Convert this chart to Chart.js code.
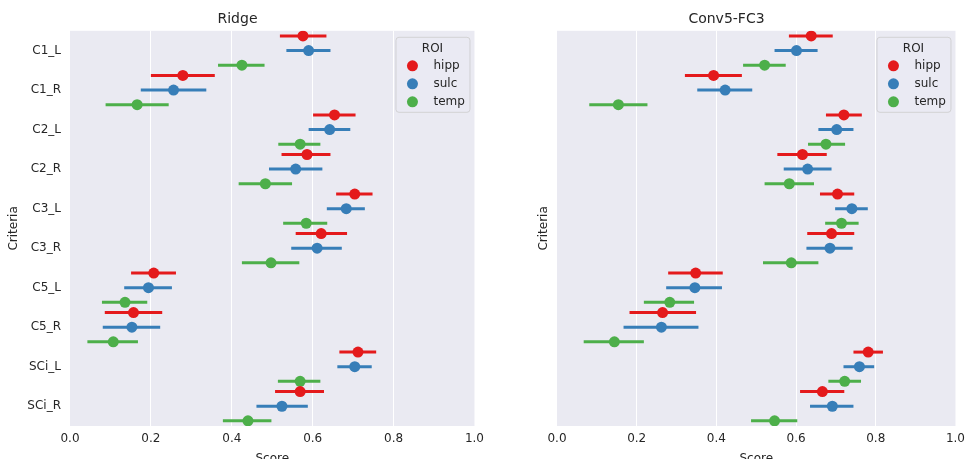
<!DOCTYPE html>
<html>
<head>
<meta charset="utf-8">
<script src="https://cdn.jsdelivr.net/npm/chart.js@4"></script>
<style>
  html, body { margin: 0; padding: 0; background: #fff; overflow: hidden; width: 971px; height: 459px; }
  .panel { position: absolute; top: 0; }
</style>
</head>
<body>
<div class="panel" style="left:0;width:490px;height:470px"><canvas id="ridgeChart"></canvas></div>
<div class="panel" style="left:490px;width:481px;height:470px"><canvas id="convChart"></canvas></div>
<script>
// Categories and hue levels
const criteria = ['C1_L', 'C1_R', 'C2_L', 'C2_R', 'C3_L', 'C3_R', 'C5_L', 'C5_R', 'SCi_L', 'SCi_R'];
const roiNames = ['hipp', 'sulc', 'temp'];
const roiColors = ['#e41a1c', '#377eb8', '#4daf4a'];
const xTicks = [0, 0.2, 0.4, 0.6, 0.8, 1.0];

// Ridge: mean score per criterion
const ridgeHipp = [0.576, 0.279, 0.654, 0.586, 0.704, 0.621, 0.207, 0.157, 0.712, 0.569];
const ridgeSulc = [0.590, 0.256, 0.642, 0.558, 0.683, 0.611, 0.194, 0.153, 0.704, 0.524];
const ridgeTemp = [0.425, 0.166, 0.569, 0.483, 0.584, 0.497, 0.136, 0.107, 0.569, 0.440];
// Ridge: confidence intervals [low, high]
const ridgeHippCI = [[0.519, 0.634], [0.200, 0.358], [0.601, 0.706], [0.523, 0.644], [0.658, 0.748], [0.558, 0.685], [0.151, 0.262], [0.086, 0.228], [0.666, 0.757], [0.507, 0.628]];
const ridgeSulcCI = [[0.535, 0.644], [0.175, 0.337], [0.590, 0.693], [0.492, 0.624], [0.635, 0.729], [0.547, 0.672], [0.134, 0.252], [0.081, 0.223], [0.661, 0.746], [0.461, 0.588]];
const ridgeTempCI = [[0.366, 0.481], [0.088, 0.244], [0.515, 0.619], [0.417, 0.549], [0.527, 0.636], [0.425, 0.567], [0.079, 0.191], [0.043, 0.168], [0.514, 0.619], [0.378, 0.498]];

// Conv5-FC3: mean score per criterion
const convHipp = [0.638, 0.393, 0.720, 0.616, 0.704, 0.689, 0.348, 0.265, 0.781, 0.666];
const convSulc = [0.601, 0.422, 0.702, 0.629, 0.740, 0.685, 0.346, 0.262, 0.759, 0.691];
const convTemp = [0.521, 0.154, 0.675, 0.583, 0.714, 0.588, 0.283, 0.144, 0.722, 0.546];
// Conv5-FC3: confidence intervals [low, high]
const convHippCI = [[0.582, 0.692], [0.321, 0.464], [0.675, 0.765], [0.553, 0.677], [0.660, 0.746], [0.628, 0.746], [0.279, 0.416], [0.182, 0.349], [0.744, 0.818], [0.610, 0.721]];
const convSulcCI = [[0.546, 0.654], [0.352, 0.490], [0.656, 0.744], [0.569, 0.689], [0.698, 0.780], [0.626, 0.742], [0.274, 0.414], [0.167, 0.355], [0.719, 0.796], [0.635, 0.744]];
const convTempCI = [[0.467, 0.574], [0.081, 0.227], [0.630, 0.723], [0.521, 0.645], [0.673, 0.757], [0.517, 0.656], [0.218, 0.344], [0.067, 0.218], [0.681, 0.763], [0.487, 0.603]];

const dodge = [-0.37, 0, 0.37];
const textColor = '#262626';
const fontFamily = 'DejaVu Sans';

// Plot area background
const backgroundPlugin = {
    id: 'plotBackground',
    beforeDraw(chart) {
        const a = chart.chartArea;
        const ctx = chart.ctx;
        ctx.save();
        ctx.fillStyle = '#eaeaf2';
        ctx.fillRect(a.left, a.top, a.right - a.left, a.bottom - a.top);
        ctx.restore();
    }
};

// Horizontal error bars, drawn under the points
const errorBarPlugin = {
    id: 'errorBars',
    beforeDatasetsDraw(chart) {
        const ctx = chart.ctx;
        const xs = chart.scales.x;
        const ys = chart.scales.y;
        ctx.save();
        ctx.lineWidth = 3;
        ctx.lineCap = 'butt';
        chart.data.datasets.forEach(ds => {
            ctx.strokeStyle = ds.borderColor;
            ds.ci.forEach((ci, i) => {
                const y = ys.getPixelForValue(i + ds.offset);
                ctx.beginPath();
                ctx.moveTo(xs.getPixelForValue(ci[0]), y);
                ctx.lineTo(xs.getPixelForValue(ci[1]), y);
                ctx.stroke();
            });
        });
        ctx.restore();
    }
};

// Legend box inside the plot area, upper right
const legendPlugin = {
    id: 'roiLegend',
    afterDatasetsDraw(chart) {
        const ctx = chart.ctx;
        const a = chart.chartArea;
        const w = 74, h = 75;
        const x0 = a.right - 5 - w;
        const y0 = a.top + 6;
        ctx.save();
        ctx.globalAlpha = 0.8;
        ctx.fillStyle = '#eaeaf2';
        ctx.strokeStyle = '#cccccc';
        ctx.lineWidth = 1;
        ctx.beginPath();
        ctx.roundRect(x0 + 0.5, y0 + 0.5, w, h, 3);
        ctx.fill();
        ctx.stroke();
        ctx.globalAlpha = 1;
        ctx.font = '12px ' + fontFamily;
        ctx.fillStyle = textColor;
        ctx.textBaseline = 'middle';
        ctx.textAlign = 'center';
        ctx.fillText('ROI', x0 + w / 2, y0 + 12);
        ctx.textAlign = 'left';
        roiNames.forEach((name, i) => {
            const yy = y0 + 29 + i * 18;
            ctx.fillStyle = roiColors[i];
            ctx.beginPath();
            ctx.arc(x0 + 17, yy, 5.5, 0, Math.PI * 2);
            ctx.fill();
            ctx.fillStyle = textColor;
            ctx.fillText(name, x0 + 38, yy);
        });
        ctx.restore();
    }
};

function buildDatasets(means, cis) {
    return roiNames.map((name, k) => ({
        label: name,
        data: means[k].map((v, i) => ({ x: v, y: i + dodge[k] })),
        ci: cis[k],
        offset: dodge[k],
        backgroundColor: roiColors[k],
        borderColor: roiColors[k],
        pointRadius: 5.5,
        pointHoverRadius: 5.5,
        borderWidth: 0
    }));
}

function makeChart(canvasId, title, means, cis, showLabels, yAxisWidth, yTitlePad, rightPad) {
    const ctx = document.getElementById(canvasId).getContext('2d');
    return new Chart(ctx, {
        type: 'scatter',
        data: { datasets: buildDatasets(means, cis) },
        plugins: [backgroundPlugin, errorBarPlugin, legendPlugin],
        options: {
            responsive: true,
            maintainAspectRatio: false,
            animation: false,
            events: [],
            layout: { padding: { top: 0, right: rightPad, left: 0, bottom: 0 } },
            plugins: {
                legend: { display: false },
                tooltip: { enabled: false },
                title: {
                    display: true,
                    text: title,
                    color: textColor,
                    font: { family: fontFamily, size: 14, weight: 'normal' },
                    padding: { top: 11, bottom: 3 }
                }
            },
            scales: {
                x: {
                    type: 'linear',
                    min: 0,
                    max: 1,
                    afterBuildTicks: axis => { axis.ticks = xTicks.map(v => ({ value: v })); },
                    afterFit: axis => { axis.height = 44; },
                    border: { display: false },
                    grid: {
                        color: c => (c.tick.value === 0 || c.tick.value === 1) ? 'rgba(0,0,0,0)' : '#ffffff',
                        lineWidth: 1,
                        drawTicks: false
                    },
                    ticks: {
                        color: textColor,
                        padding: 6,
                        font: { family: fontFamily, size: 12 },
                        callback: v => v.toFixed(1)
                    },
                    title: {
                        display: true,
                        text: 'Score',
                        color: textColor,
                        font: { family: fontFamily, size: 12 },
                        padding: { top: 0, bottom: 4 }
                    }
                },
                y: {
                    type: 'linear',
                    reverse: true,
                    min: -0.5,
                    max: criteria.length - 0.5,
                    afterBuildTicks: axis => { axis.ticks = criteria.map((c, i) => ({ value: i })); },
                    afterFit: axis => { axis.width = yAxisWidth; },
                    border: { display: false },
                    grid: { display: false, drawTicks: false },
                    ticks: {
                        display: showLabels,
                        color: textColor,
                        padding: 9,
                        font: { family: fontFamily, size: 12 },
                        callback: v => criteria[Math.round(v)]
                    },
                    title: {
                        display: true,
                        text: 'Criteria',
                        color: textColor,
                        font: { family: fontFamily, size: 12 },
                        padding: { top: yTitlePad, bottom: 0 }
                    }
                }
            }
        }
    });
}

makeChart('ridgeChart', 'Ridge',
    [ridgeHipp, ridgeSulc, ridgeTemp],
    [ridgeHippCI, ridgeSulcCI, ridgeTempCI],
    true, 70, 7, 15);

makeChart('convChart', 'Conv5-FC3',
    [convHipp, convSulc, convTemp],
    [convHippCI, convSulcCI, convTempCI],
    false, 67, 47, 8);
</script>
</body>
</html>
